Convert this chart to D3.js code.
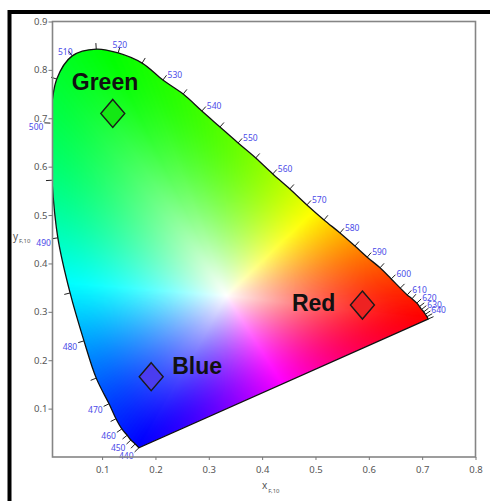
<!DOCTYPE html>
<html>
<head>
<meta charset="utf-8">
<script src="https://cdn.jsdelivr.net/npm/d3@7/dist/d3.min.js"></script>
<style>
  body { margin: 0; background: #fff; }
  svg { display: block; }
</style>
</head>
<body>
<svg id="chart" width="490" height="501"></svg>
<script>
// spectral locus (x_F,10 / y_F,10), every 5 nm
var wavelengths = [440,445,450,455,460,465,470,475,480,485,490,495,500,505,510,515,520,525,530,535,
                   540,545,550,555,560,565,570,575,580,585,590,595,600,605,610,615,620,625,630,635,640,645,650];
var locusX = [0.169,0.162,0.154,0.147,0.137,0.126,0.113,0.089,0.066,0.040,0.017,0.006,0.003,0.015,0.044,0.089,0.130,0.175,0.214,0.252,
              0.287,0.321,0.355,0.388,0.420,0.452,0.484,0.516,0.546,0.574,0.597,0.621,0.642,0.659,0.672,0.681,0.690,0.695,0.699,0.703,0.706,0.709,0.711];
var locusY = [0.019,0.027,0.035,0.045,0.058,0.079,0.110,0.163,0.240,0.339,0.453,0.572,0.690,0.781,0.829,0.843,0.835,0.814,0.779,0.750,
              0.715,0.682,0.649,0.618,0.585,0.554,0.521,0.490,0.463,0.436,0.413,0.391,0.368,0.349,0.335,0.327,0.318,0.311,0.305,0.300,0.295,0.290,0.285];
var labelledUpTo = 640;

var xTicks = [0.1,0.2,0.3,0.4,0.5,0.6,0.7,0.8];
var yTicks = [0.1,0.2,0.3,0.4,0.5,0.6,0.7,0.8,0.9];

// the three plotted primaries
var pointNames = ["Green","Red","Blue"];
var pointX = [0.120, 0.588, 0.192];
var pointY = [0.710, 0.314, 0.166];

var markFill = {Green: "#14e814", Red: "#ee2222", Blue: "#4a3cf0"};
// label offset from the diamond centre (px) and anchor
var markLabel = {Green: [-41, -23, "start"], Red: [-27, 6, "end"], Blue: [21, -3, "start"]};

var svg = d3.select("#chart");

var plotL = 52.5, plotR = 475.5, plotT = 21.5, plotB = 457;
var x = d3.scaleLinear().domain([0.007, 0.8]).range([plotL, plotR]);
var y = d3.scaleLinear().domain([0, 0.9]).range([plotB, plotT]);

// outer black border (right and bottom run off the picture)
svg.append("rect")
  .attr("x", 9.5).attr("y", 12)
  .attr("width", 520).attr("height", 520)
  .attr("fill", "none").attr("stroke", "#000").attr("stroke-width", 4);

var defs = svg.append("defs");
defs.append("clipPath").attr("id", "frame")
  .append("rect").attr("x", plotL).attr("y", plotT).attr("width", plotR - plotL).attr("height", plotB - plotT);

var pts = wavelengths.map(function(w, i){ return [x(locusX[i]), y(locusY[i])]; });
var locusLine = d3.line().curve(d3.curveCatmullRom.alpha(0.5));
var locusPath = locusLine(pts) + "Z";

defs.append("clipPath").attr("id", "locus")
  .append("path").attr("d", locusPath);

// ---- colour fill: hue from the angle round the white point, saturation from distance to the edge ----
var wx = 1/3, wy = 1/3;
var hueOf = d3.scaleLinear()
  .domain([-6.7, 46.9, 113.7, 175, 242, 300, 353.3])
  .range([0, 60, 120, 180, 240, 300, 360]);

var bins = 1440, edgeDist = [];
for (var k = 0; k < bins; k++){
  var th = k / bins * 2 * Math.PI, dx = Math.cos(th), dy = Math.sin(th), best = 1;
  for (var s = 0; s < locusX.length; s++){
    var n2 = (s + 1) % locusX.length;
    var ax = locusX[s], ay = locusY[s];
    var ex = locusX[n2] - ax, ey = locusY[n2] - ay;
    var den = dx*ey - dy*ex;
    if (Math.abs(den) < 1e-12) continue;
    var qx = ax - wx, qy = ay - wy;
    var t = (qx*ey - qy*ex) / den, u = (qx*dy - qy*dx) / den;
    if (t > 0 && u >= 0 && u <= 1 && t < best) best = t;
  }
  edgeDist.push(best);
}

var pure = [];
for (var h = 0; h <= 360; h++){ var c = d3.rgb(d3.hsl(h, 1, 0.5)); pure.push([c.r, c.g, c.b]); }

var cw = Math.ceil(plotR - plotL), ch = Math.ceil(plotB - plotT);
var canvas = document.createElement("canvas");
canvas.width = cw; canvas.height = ch;
var ctx = canvas.getContext("2d");
var img = ctx.createImageData(cw, ch);
for (var j = 0; j < ch; j++){
  var cy = y.invert(plotT + j + 0.5);
  for (var i = 0; i < cw; i++){
    var cx = x.invert(plotL + i + 0.5);
    var vx = cx - wx, vy = cy - wy;
    var r = Math.sqrt(vx*vx + vy*vy);
    var ang = Math.atan2(vy, vx) * 180 / Math.PI;
    var a2 = ang < -6.7 ? ang + 360 : ang;
    var hue = Math.round(hueOf(a2)) % 360;
    var bin = Math.floor(((ang + 360) % 360) / 360 * bins) % bins;
    var ratio = Math.min(r / edgeDist[bin], 1);
    var sat = 1 - Math.pow(1 - ratio, 1.6);
    var pc = pure[hue];
    var o = (j*cw + i)*4;
    img.data[o]   = Math.round(255 - sat*(255 - pc[0]));
    img.data[o+1] = Math.round(255 - sat*(255 - pc[1]));
    img.data[o+2] = Math.round(255 - sat*(255 - pc[2]));
    img.data[o+3] = 255;
  }
}
ctx.putImageData(img, 0, 0);

var plot = svg.append("g").attr("clip-path", "url(#frame)");
plot.append("image")
  .attr("href", canvas.toDataURL())
  .attr("x", plotL).attr("y", plotT)
  .attr("width", cw).attr("height", ch)
  .attr("preserveAspectRatio", "none")
  .attr("clip-path", "url(#locus)");
plot.append("path")
  .attr("d", locusPath)
  .attr("fill", "none").attr("stroke", "#111").attr("stroke-width", 1.3);

// ---- wavelength ticks and labels ----
var wl = svg.append("g");
wavelengths.forEach(function(w, i){
  var p = pts[i], a = pts[Math.max(i-1, 0)], b = pts[Math.min(i+1, pts.length-1)];
  var dx = b[0]-a[0], dy = b[1]-a[1], len = Math.sqrt(dx*dx+dy*dy);
  var nx = dy/len, ny = -dx/len;
  var ex = p[0] + nx*6, ey = p[1] + ny*6;
  wl.append("line")
    .attr("x1", p[0]).attr("y1", p[1]).attr("x2", ex).attr("y2", ey)
    .attr("stroke", "#222").attr("stroke-width", 1);
  if (w % 10 === 0 && w <= labelledUpTo){
    var t = wl.append("text")
      .attr("font-family", "Noto Sans, DejaVu Sans, sans-serif")
      .attr("font-size", 8.5)
      .attr("fill", "#4b4be8")
      .attr("dominant-baseline", "central")
      .text(w);
    if (nx < -0.35 && ny < -0.5) t.attr("text-anchor", "end").attr("x", ex + 4).attr("y", ey);
    else if (nx < -0.35) t.attr("text-anchor", "end").attr("x", ex - 1).attr("y", ey + 3.5);
    else if (nx > 0.35) t.attr("text-anchor", "start").attr("x", ex + 1).attr("y", ey - 1);
    else t.attr("text-anchor", "middle").attr("x", ex).attr("y", ey - 3);
  }
});

// ---- frame and axes ----
svg.append("rect")
  .attr("x", plotL).attr("y", plotT).attr("width", plotR - plotL).attr("height", plotB - plotT)
  .attr("fill", "none").attr("stroke", "#858585").attr("stroke-width", 1.6);

var yAxis = d3.axisLeft(y).tickValues(yTicks).tickSize(4).tickPadding(1).tickFormat(d3.format(".1f"));
var gy = svg.append("g").attr("transform", "translate(" + plotL + ",0)").call(yAxis);
var xAxis = d3.axisBottom(x).tickValues(xTicks).tickSize(3).tickPadding(6).tickFormat(d3.format(".1f"));
var gx = svg.append("g").attr("transform", "translate(0," + plotB + ")").call(xAxis);
[gx, gy].forEach(function(g){
  g.select(".domain").remove();
  g.selectAll(".tick line").attr("stroke", "#777");
  g.selectAll(".tick text")
    .attr("font-family", "Noto Sans, DejaVu Sans, sans-serif")
    .attr("font-size", 9.5).attr("fill", "#555");
});

var yt = svg.append("text")
  .attr("x", 13).attr("y", 240)
  .attr("font-family", "Noto Sans, DejaVu Sans, sans-serif")
  .attr("font-size", 10).attr("fill", "#555").text("y");
yt.append("tspan").attr("font-size", 6).attr("dy", 3).attr("dx", 1).text("F,10");

var xt = svg.append("text")
  .attr("x", 262).attr("y", 489)
  .attr("font-family", "Noto Sans, DejaVu Sans, sans-serif")
  .attr("font-size", 10).attr("fill", "#555").text("x");
xt.append("tspan").attr("font-size", 6).attr("dy", 4).attr("dx", 1).text("F,10");

// ---- marked points ----
var marks = svg.append("g");
pointNames.forEach(function(name, i){
  var cx = x(pointX[i]), cy = y(pointY[i]);
  marks.append("path")
    .attr("d", "M" + cx + "," + (cy-14) + "L" + (cx+12) + "," + cy + "L" + cx + "," + (cy+14) + "L" + (cx-12) + "," + cy + "Z")
    .attr("fill", markFill[name])
    .attr("stroke", "#1a1a1a").attr("stroke-width", 1.4);
  var lab = markLabel[name];
  marks.append("text")
    .attr("x", cx + lab[0]).attr("y", cy + lab[1])
    .attr("text-anchor", lab[2])
    .attr("font-family", "Liberation Sans, Arial, sans-serif")
    .attr("font-weight", "bold")
    .attr("font-size", 23)
    .attr("fill", "#111")
    .text(name);
});
</script>
</body>
</html>
